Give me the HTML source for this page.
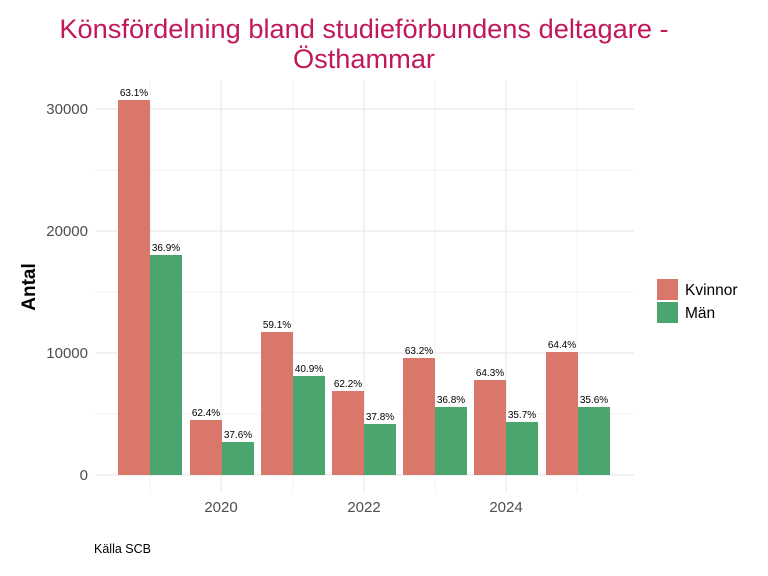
<!DOCTYPE html>
<html><head><meta charset="utf-8"><style>
body{margin:0;background:#fff;}
svg{display:block;font-family:"Liberation Sans",sans-serif;}
</style></head><body>
<svg width="768" height="576" viewBox="0 0 768 576" xmlns="http://www.w3.org/2000/svg">
<rect width="768" height="576" fill="#fff"/>
<text x="364" y="38" text-anchor="middle" font-size="27.2" fill="#c2185b">Könsfördelning bland studieförbundens deltagare -</text>
<text x="364" y="68" text-anchor="middle" font-size="27.2" fill="#c2185b">Östhammar</text>
<g stroke="#f3f3f3" stroke-width="1">
<line x1="95" x2="634" y1="414" y2="414"/><line x1="95" x2="634" y1="292" y2="292"/><line x1="95" x2="634" y1="170" y2="170"/>
<line x1="150" x2="150" y1="80" y2="492"/><line x1="293" x2="293" y1="80" y2="492"/><line x1="435" x2="435" y1="80" y2="492"/><line x1="577" x2="577" y1="80" y2="492"/>
</g>
<g stroke="#e6e6e6" stroke-width="1">
<line x1="95" x2="634" y1="475" y2="475"/><line x1="95" x2="634" y1="353" y2="353"/><line x1="95" x2="634" y1="231" y2="231"/><line x1="95" x2="634" y1="109" y2="109"/>
<line x1="221" x2="221" y1="80" y2="492"/><line x1="364" x2="364" y1="80" y2="492"/><line x1="506" x2="506" y1="80" y2="492"/>
</g>
<g fill="#d9776a">
<rect x="118" y="100" width="32" height="375"/>
<rect x="190" y="420" width="32" height="55"/>
<rect x="261" y="332" width="32" height="143"/>
<rect x="332" y="391" width="32" height="84"/>
<rect x="403" y="358" width="32" height="117"/>
<rect x="474" y="380" width="32" height="95"/>
<rect x="546" y="352" width="32" height="123"/>
</g>
<g fill="#4ba56f">
<rect x="150" y="255" width="32" height="220"/>
<rect x="222" y="442" width="32" height="33"/>
<rect x="293" y="376" width="32" height="99"/>
<rect x="364" y="424" width="32" height="51"/>
<rect x="435" y="407" width="32" height="68"/>
<rect x="506" y="422" width="32" height="53"/>
<rect x="578" y="407" width="32" height="68"/>
</g>
<g font-size="10" text-anchor="middle" fill="#000">
<text x="134" y="96">63.1%</text><text x="166" y="251">36.9%</text>
<text x="206" y="416">62.4%</text><text x="238" y="438">37.6%</text>
<text x="277" y="328">59.1%</text><text x="309" y="372">40.9%</text>
<text x="348" y="387">62.2%</text><text x="380" y="420">37.8%</text>
<text x="419" y="354">63.2%</text><text x="451" y="403">36.8%</text>
<text x="490" y="376">64.3%</text><text x="522" y="418">35.7%</text>
<text x="562" y="348">64.4%</text><text x="594" y="403">35.6%</text>
</g>
<g font-size="15" fill="#4d4d4d" text-anchor="end">
<text x="88" y="480">0</text><text x="88" y="358">10000</text><text x="88" y="236">20000</text><text x="88" y="114">30000</text>
</g>
<g font-size="15" fill="#4d4d4d" text-anchor="middle">
<text x="221" y="512">2020</text><text x="364" y="512">2022</text><text x="506" y="512">2024</text>
</g>
<text transform="translate(35,287) rotate(-90)" text-anchor="middle" font-size="19" font-weight="bold">Antal</text>
<rect x="657" y="279" width="21" height="21" fill="#d9776a"/>
<rect x="657" y="302" width="21" height="21" fill="#4ba56f"/>
<text x="685" y="295" font-size="15.5">Kvinnor</text>
<text x="685" y="318" font-size="15.5">Män</text>
<text x="94" y="553" font-size="12.5">Källa SCB</text>
</svg>
</body></html>
